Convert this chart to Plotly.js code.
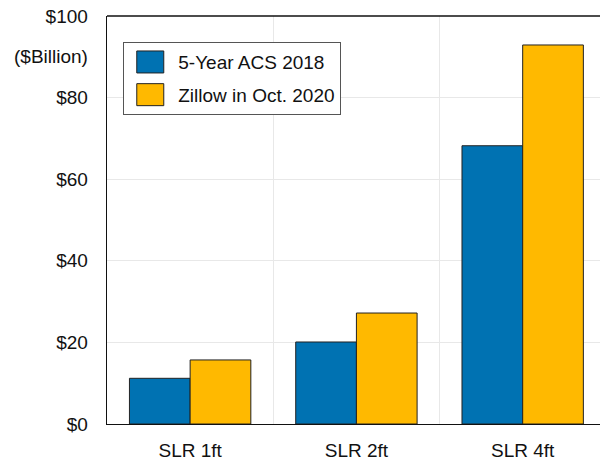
<!DOCTYPE html>
<html>
<head>
<meta charset="utf-8">
<script src="https://cdn.plot.ly/plotly-3.0.1.min.js"></script>
<style>html,body{margin:0;padding:0;background:#fff;overflow:hidden}</style>
</head>
<body>
<div id="chart" style="width:601px;height:461px"></div>
<script>
const categories = ['SLR 1ft', 'SLR 2ft', 'SLR 4ft'];
const acs2018 = [11.2, 20.1, 68.2];
const zillow2020 = [15.7, 27.2, 92.9];
const seriesNames = ['5-Year ACS 2018', 'Zillow in Oct. 2020'];
const yTicks = [0, 20, 40, 60, 80, 100];
const yTickLabels = ['$0', '$20', '$40', '$60', '$80', '$100'];
const unitLabel = '($Billion)';

const font = {family: '"Liberation Sans", Arial, Helvetica, sans-serif', size: 19, color: '#111'};

const traces = [
  {type: 'bar', name: seriesNames[0], x: categories, y: acs2018, legendgroup: 'a',
   marker: {color: '#0072B2', line: {color: '#222', width: 1}}},
  {type: 'bar', name: seriesNames[1], x: categories, y: zillow2020, legendgroup: 'b',
   marker: {color: '#FFB900', line: {color: '#222', width: 1}}}
];

const layout = {
  width: 601, height: 461,
  margin: {l: 107, r: 1, t: 16, b: 37},
  paper_bgcolor: '#fff', plot_bgcolor: '#fff',
  font: font,
  barmode: 'group', bargap: 0.27, bargroupgap: 0,
  showlegend: true,
  legend: {x: 0.033, y: 0.936, xanchor: 'left', yanchor: 'top',
    bordercolor: '#555', borderwidth: 1, bgcolor: '#fff',
    font: font, itemwidth: 44, tracegroupgap: 5, traceorder: 'grouped'},
  xaxis: {type: 'category', range: [-0.5, 2.465], showgrid: true, gridcolor: '#e8e8e8',
    tickson: 'boundaries', ticks: '', showline: true, linecolor: '#111', linewidth: 1.3,
    ticklabelstandoff: 9, tickfont: font, fixedrange: true},
  yaxis: {range: [0, 100], tickmode: 'array', tickvals: yTicks, ticktext: yTickLabels,
    showgrid: true, gridcolor: '#e8e8e8',
    zeroline: false, ticks: '', showline: true, linecolor: '#111', linewidth: 1.3,
    ticklabelstandoff: 14, tickfont: font, fixedrange: true},
  shapes: [{type: 'line', xref: 'paper', yref: 'paper', x0: 0, x1: 1, y0: 1, y1: 1,
    line: {color: '#111', width: 1.3}}],
  annotations: [{text: unitLabel, xref: 'paper', yref: 'y', x: 0, y: 90,
    xanchor: 'right', yanchor: 'middle', xshift: -17, showarrow: false, font: font}]
};

Plotly.newPlot('chart', traces, layout, {displayModeBar: false, staticPlot: true}).then(function(){
  document.querySelectorAll('.legendpoints path').forEach(function(p){
    p.setAttribute('d', 'M12.5,11H-14.5V-11H12.5Z');
  });
});
</script>
</body>
</html>
